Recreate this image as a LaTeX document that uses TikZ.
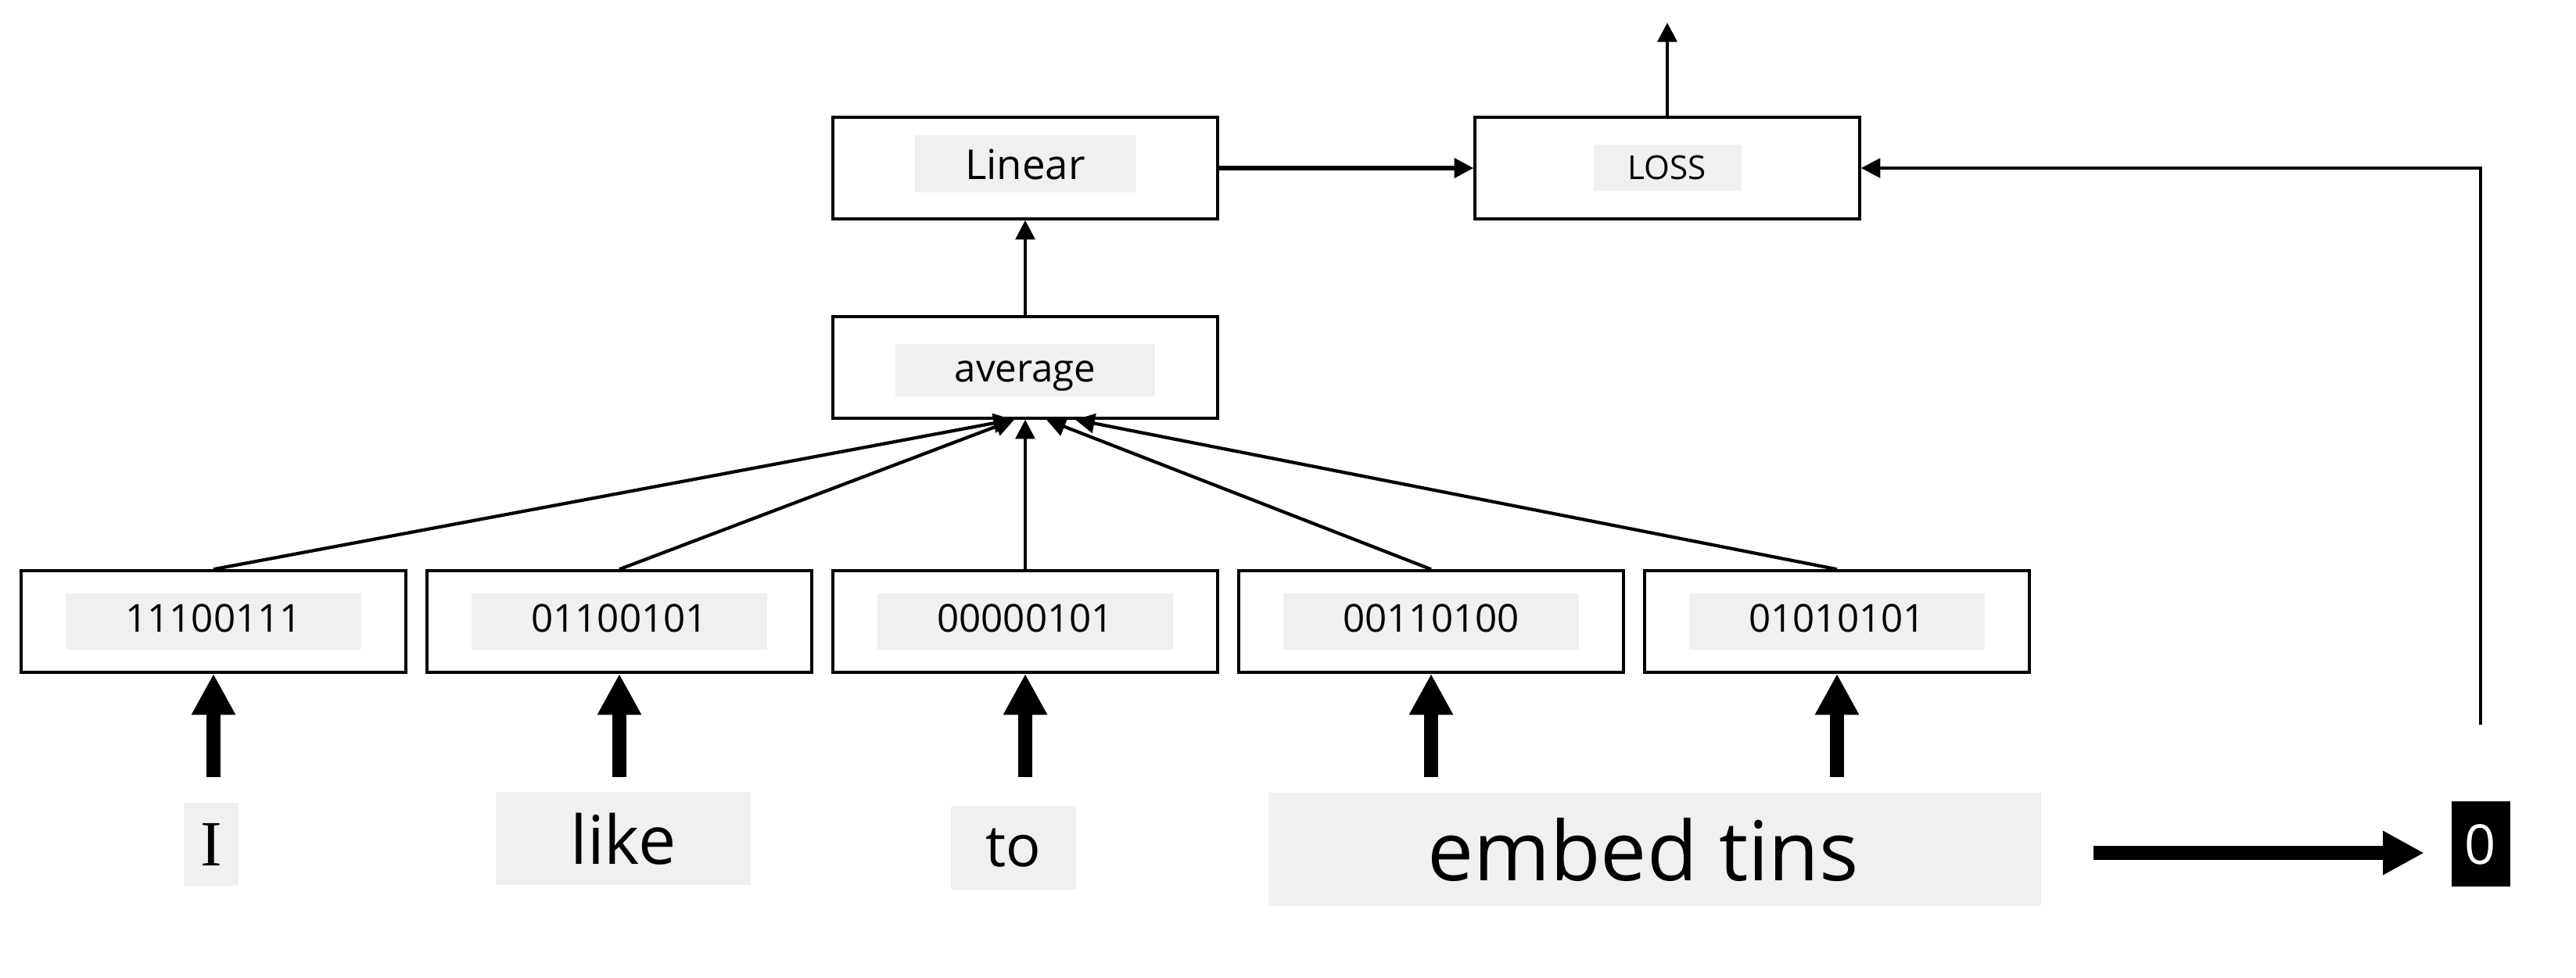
\documentclass[tikz,border=0pt]{standalone}
\usepackage{fontspec}
\setmainfont{Open Sans}
\newfontfamily\serifword{Liberation Serif}
\usepackage{tikz}
\usetikzlibrary{arrows.meta,positioning,calc}
\definecolor{labelgray}{RGB}{240,240,240}

\tikzset{
    box/.style={draw, line width=1pt, minimum width=4.92cm, minimum height=1.30cm},
    labelbg/.style={fill=labelgray, inner sep=0pt, minimum width=3.78cm, minimum height=0.72cm, text height=0.50cm, text depth=0.22cm, font=\fontsize{14}{16}\selectfont},
    word/.style={fill=labelgray, inner sep=0pt},
    flow/.style={-{Triangle[width=7pt,length=7pt]}, line width=1.2pt},
    bigarrow/.style={-{Triangle[width=15pt,length=15pt]}, line width=5pt},
}

\begin{document}
\begin{tikzpicture}
    \useasboundingbox (0,0) rectangle (32.94,12.5);

    % Top blocks
    \node[box] (lin) at (13.11, 10.35) {};
    \node[labelbg, minimum width=2.83cm, minimum height=0.73cm, text height=0.56cm, text depth=0.17cm, font=\fontsize{15}{17}\selectfont] at ([yshift=0.05cm]lin.center) {Linear};
    \node[box] (loss) at (21.32, 10.35) {};
    \node[labelbg, minimum width=1.89cm, minimum height=0.59cm, text height=0.44cm, text depth=0.15cm, font=\fontsize{12}{14}\selectfont] at (loss.center) {LOSS};
    \node[box] (avg) at (13.11, 7.80) {};
    \node[labelbg, minimum width=3.32cm, minimum height=0.67cm, text height=0.49cm, text depth=0.18cm, font=\fontsize{14}{16}\selectfont] at ([yshift=-0.035cm]avg.center) {average};
    \coordinate (lossout) at (21.32, 12.21);

    % Embedding blocks
    \foreach \i/\code in {0/11100111, 1/01100101, 2/00000101, 3/00110100, 4/01010101} {
        \node[box] (b\i) at (2.73+\i*5.19, 4.55) {};
        \node[labelbg] at (b\i.center) {\code};
    }

    % Words
    \node[word, minimum width=0.70cm, minimum height=1.06cm, font=\serifword\fontsize{23.5}{26}\selectfont] (wI) at (2.70, 1.70) {I};
    \node[word, minimum width=3.26cm, minimum height=1.19cm, font=\fontsize{24.5}{28}\selectfont] (wLike) at (7.97, 1.77) {like};
    \node[word, minimum width=1.60cm, minimum height=1.07cm, font=\fontsize{21}{24}\selectfont] (wTo) at (12.96, 1.65) {to};
    \node[word, minimum width=9.88cm, minimum height=1.45cm, font=\fontsize{30}{33}\selectfont] (wEmbed) at (21.16, 1.63) {embed tins\hspace*{0.3cm}};
    \node[fill=black, text=white, inner sep=0pt, minimum width=0.75cm, minimum height=1.09cm, font=\fontsize{20}{22}\selectfont] (zero) at (31.72, 1.70) {0};

    % Arrows
    \draw[flow] (avg) -- (lin);
    \draw[flow, line width=1.5pt] (lin) -- (loss);
    \draw[flow] (loss) -- (lossout);
    \draw[flow, shorten <=0.98cm] (zero.north) |- (loss.east);

    \foreach \i/\d in {0/-0.16, 1/-0.14, 2/0, 3/0.27, 4/0.64} {
        \draw[flow] (b\i.north) -- ([xshift=\d cm]avg.south);
    }

    \draw[bigarrow, shorten <=0.32cm] (b0.south |- wI.north) -- (b0.south);
    \draw[bigarrow, shorten <=0.19cm] (b1.south |- wLike.north) -- (b1.south);
    \draw[bigarrow, shorten <=0.37cm] (b2.south |- wTo.north) -- (b2.south);
    \draw[bigarrow, shorten <=0.20cm] (b3.south |- wEmbed.north) -- (b3.south);
    \draw[bigarrow, shorten <=0.20cm] (b4.south |- wEmbed.north) -- (b4.south);
    \draw[bigarrow, shorten <=0.66cm, shorten >=0.34cm] ([yshift=-0.04cm]wEmbed.east) -- ([yshift=-0.04cm]wEmbed.east -| zero.west);
\end{tikzpicture}
\end{document}
